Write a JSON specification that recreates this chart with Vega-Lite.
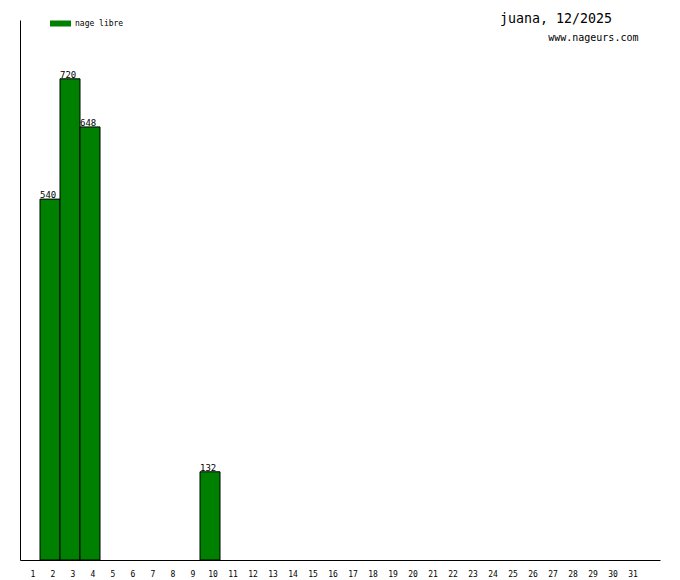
{
  "$schema": "https://vega.github.io/schema/vega-lite/v6.json",
  "autosize": "none",
  "width": 640,
  "height": 540,
  "padding": {"left": 20, "top": 20, "right": 20, "bottom": 20},
  "background": "white",
  "title": {
    "text": "juana, 12/2025",
    "subtitle": "\u200b\u00a0\u00a0\u00a0\u00a0\u00a0\u00a0\u00a0\u00a0www.nageurs.com",
    "anchor": "start",
    "frame": "group",
    "dx": 480,
    "offset": -30,
    "font": "DejaVu Sans Mono",
    "fontSize": 13.3,
    "fontWeight": "normal",
    "color": "black",
    "subtitleFont": "DejaVu Sans Mono",
    "subtitleFontSize": 10,
    "subtitleColor": "black",
    "subtitlePadding": 8
  },
  "data": {
    "values": [
      {"day": 2, "distance": 540, "style": "nage libre"},
      {"day": 3, "distance": 720, "style": "nage libre"},
      {"day": 4, "distance": 648, "style": "nage libre"},
      {"day": 10, "distance": 132, "style": "nage libre"}
    ]
  },
  "config": {
    "view": {"stroke": null},
    "font": "DejaVu Sans Mono"
  },
  "encoding": {
    "x": {
      "field": "day",
      "type": "ordinal",
      "scale": {
        "domain": [1,2,3,4,5,6,7,8,9,10,11,12,13,14,15,16,17,18,19,20,21,22,23,24,25,26,27,28,29,30,31,32],
        "paddingInner": 0,
        "paddingOuter": 0
      },
      "axis": {
        "title": null,
        "values": [1,2,3,4,5,6,7,8,9,10,11,12,13,14,15,16,17,18,19,20,21,22,23,24,25,26,27,28,29,30,31],
        "labelAngle": 0,
        "ticks": false,
        "labelPadding": 10,
        "labelFont": "DejaVu Sans Mono",
        "labelFontSize": 8,
        "labelColor": "black",
        "domainColor": "black",
        "domainWidth": 1,
        "labelOffset": 3
      }
    },
    "y": {
      "field": "distance",
      "type": "quantitative",
      "scale": {"domain": [0, 808], "nice": false},
      "axis": {
        "title": null,
        "labels": false,
        "ticks": false,
        "grid": false,
        "domainColor": "black",
        "domainWidth": 1
      }
    }
  },
  "layer": [
    {
      "mark": {"type": "bar", "stroke": "black", "strokeWidth": 1, "fill": "#008000"},
      "encoding": {
        "color": {
          "field": "style",
          "type": "nominal",
          "scale": {"range": ["#008000"]},
          "legend": {
            "title": null,
            "orient": "none",
            "legendX": 30,
            "legendY": -7,
            "padding": 0,
            "symbolType": "M-1,-0.286H1V0.286H-1Z",
            "symbolSize": 441,
            "symbolStrokeWidth": 0,
            "labelFont": "DejaVu Sans Mono",
            "labelFontSize": 8,
            "labelColor": "black",
            "labelOffset": 4
          }
        }
      }
    },
    {
      "mark": {"type": "text", "align": "left", "baseline": "bottom", "dy": 1, "font": "DejaVu Sans Mono", "fontSize": 9, "color": "black"},
      "encoding": {
        "x": {"field": "day", "type": "ordinal", "bandPosition": 0},
        "text": {"field": "distance", "type": "quantitative"}
      }
    }
  ]
}
